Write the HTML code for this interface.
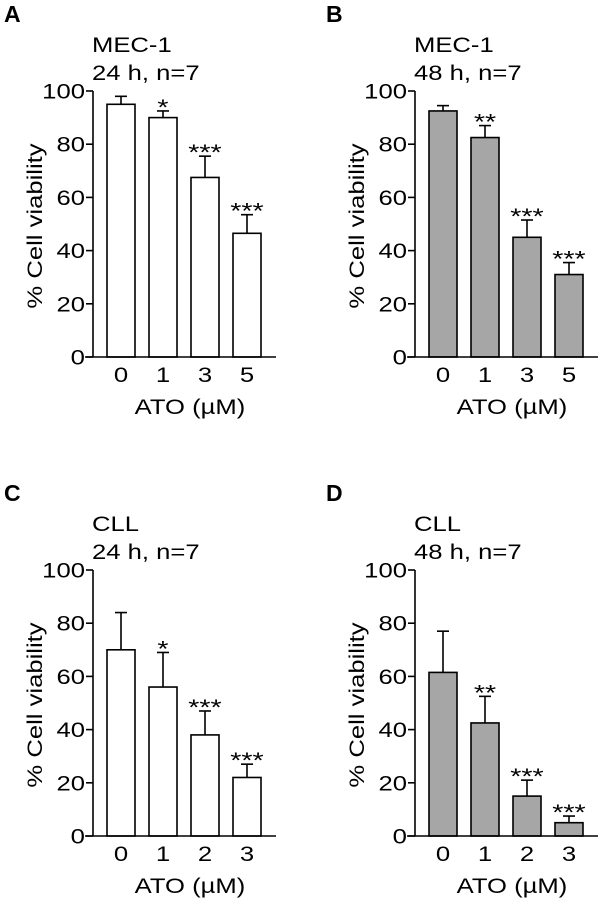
<!DOCTYPE html>
<html><head><meta charset="utf-8"><style>
html,body{margin:0;padding:0;background:#fff;}
svg{display:block;font-family:"Liberation Sans",Arial,sans-serif;}
</style></head><body>
<svg id="fig" width="600" height="908" viewBox="0 0 600 908"></svg>
<script>
const catsAB = ["0","1","3","5"];
const catsCD = ["0","1","2","3"];
const valsA = [95, 90, 67.5, 46.5];
const errsA = [3, 2.5, 8, 7];
const starsA = ["", "*", "***", "***"];
const valsB = [92.5, 82.5, 45, 31];
const errsB = [2, 4.5, 6.5, 4.5];
const starsB = ["", "**", "***", "***"];
const valsC = [70, 56, 38, 22];
const errsC = [14, 13, 9, 5];
const starsC = ["", "*", "***", "***"];
const valsD = [61.5, 42.5, 15, 5];
const errsD = [15.5, 10, 6, 2.5];
const starsD = ["", "**", "***", "***"];
const yTicks = [0, 20, 40, 60, 80, 100];

const NS = "http://www.w3.org/2000/svg";
const svg = document.getElementById("fig");
function mk(tag, attrs, parent, txt){
  const e = document.createElementNS(NS, tag);
  for (const k in attrs) e.setAttribute(k, attrs[k]);
  if (txt !== undefined) e.textContent = txt;
  (parent || svg).appendChild(e);
  return e;
}
function stretch(el, f){
  const w = el.getComputedTextLength();
  el.setAttribute("textLength", (w * f).toFixed(1));
  el.setAttribute("lengthAdjust", "spacingAndGlyphs");
}
function panel(id, letter, ox, oy, title1, title2, cats, vals, errs, stars, fill){
  const g = mk("g", {});
  
  
  const axX = ox, y0 = oy + 266, yTop = oy;
  const yS = v => y0 - v * 2.66;
  const xS = i => axX + 14 + i * 42;
  const bw = 28;
  const SF = 1.22;
  const L = mk("text", {x: axX - 89, y: oy - 69, "font-size": 23, "font-weight": "bold"}, g, letter);
  
  
  const t1 = mk("text", {x: axX - 1, y: oy - 39, "font-size": 21}, g, title1);
  
  
  stretch(t1, SF);
  const t2 = mk("text", {x: axX - 1, y: oy - 11, "font-size": 21}, g, title2);
  
  
  stretch(t2, SF);
  cats.forEach((c, i) => {
    const v = vals[i], e = errs[i], x = xS(i), cx = x + bw / 2;
    const el = mk("line", {x1: cx, x2: cx, y1: yS(v), y2: yS(v + e), stroke: "#000", "stroke-width": 1.6}, g);
    
    
    const cap = mk("line", {x1: cx - 6, x2: cx + 6, y1: yS(v + e), y2: yS(v + e), stroke: "#000", "stroke-width": 1.6}, g);
    
    
    const r = mk("rect", {x: x, y: yS(v), width: bw, height: y0 - yS(v), fill: fill, stroke: "#000", "stroke-width": 1.6}, g);
    
    
    if (stars[i]) {
      const s = mk("text", {x: cx, y: yS(v + e) + 4, "font-size": 22, "text-anchor": "middle"}, g, stars[i]);
      
      
      stretch(s, 1.3);
    }
    const tl = mk("text", {x: cx, y: y0 + 25, "font-size": 21, "text-anchor": "middle"}, g, c);
    
    
    stretch(tl, SF);
  });
  const ya = mk("line", {x1: axX, x2: axX, y1: yTop, y2: y0, stroke: "#000", "stroke-width": 1.6}, g);
  
  
  const xa = mk("line", {x1: axX - 8, x2: axX + 183, y1: y0, y2: y0, stroke: "#000", "stroke-width": 1.6}, g);
  
  
  yTicks.forEach(t => {
    const tk = mk("line", {x1: axX - 7, x2: axX, y1: yS(t), y2: yS(t), stroke: "#000", "stroke-width": 1.6}, g);
    
    
    const tt = mk("text", {x: axX - 8, y: yS(t) + 7.5, "font-size": 21, "text-anchor": "end"}, g, String(t));
    
    
    stretch(tt, SF);
  });
  const yl = mk("text", {x: 0, y: 0, "font-size": 21, "text-anchor": "middle", transform: `translate(${axX - 51},${(yTop + y0) / 2 + 2}) rotate(-90)`}, g, "% Cell viability");
  
  
  stretch(yl, SF);
  const xl = mk("text", {x: axX + 97, y: y0 + 57, "font-size": 21, "text-anchor": "middle"}, g, "ATO (\u00b5M)");
  
  
  stretch(xl, SF);
}
panel("a", "A", 93, 91, "MEC-1", "24 h, n=7", catsAB, valsA, errsA, starsA, "#fff");
panel("b", "B", 415, 91, "MEC-1", "48 h, n=7", catsAB, valsB, errsB, starsB, "#a6a6a6");
panel("c", "C", 93, 570, "CLL", "24 h, n=7", catsCD, valsC, errsC, starsC, "#fff");
panel("d", "D", 415, 570, "CLL", "48 h, n=7", catsCD, valsD, errsD, starsD, "#a6a6a6");
</script>
</body></html>
